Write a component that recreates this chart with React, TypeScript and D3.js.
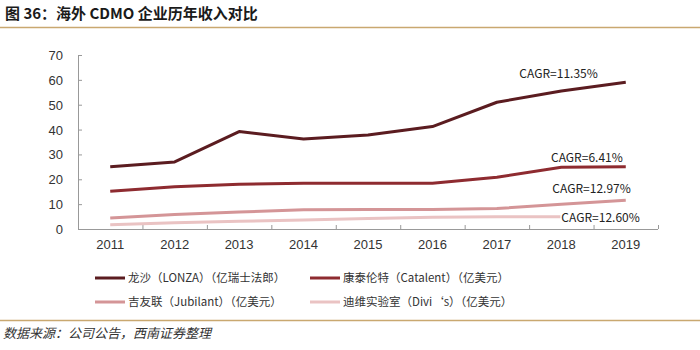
import React, { useEffect, useRef } from 'react';
import * as d3 from 'd3';

const years = ['2011', '2012', '2013', '2014', '2015', '2016', '2017', '2018', '2019'];
const lonza = [25, 27, 39.2, 36.2, 37.8, 41.2, 51, 55.5, 59];
const catalent = [15.2, 17, 18, 18.4, 18.4, 18.4, 20.8, 24.8, 25];
const jubilant = [4.4, 5.8, 6.8, 7.7, 7.8, 7.8, 8.2, 10, 11.6];
const divis = [1.7, 2.5, 3.1, 3.6, 4.2, 4.7, 4.9, 4.9, 4.8];
const seriesNames = [
  '龙沙（LONZA）（亿瑞士法郎）',
  '康泰伦特（Catalent）（亿美元）',
  '吉友联（Jubilant）（亿美元）',
  '迪维实验室（Divi‘s）（亿美元）',
];
const cagrLabels = ['CAGR=11.35%', 'CAGR=6.41%', 'CAGR=12.97%', 'CAGR=12.60%'];
const yTicks = [0, 10, 20, 30, 40, 50, 60, 70];

const colors = ['#5b1c20', '#8e2b30', '#d49597', '#eac3c3'];
const cjk = '"Noto Sans CJK SC", "Liberation Sans", sans-serif';

export default function App() {
  const ref = useRef<SVGSVGElement | null>(null);

  useEffect(() => {
    if (!ref.current) return;
    const svg = d3.select(ref.current);
    svg.selectAll('*').remove();

    const W = 700;
    const H = 350;
    const left = 78;
    const right = 658;
    const top = 55;
    const bottom = 229;

    svg.append('rect').attr('width', W).attr('height', H).attr('fill', '#fff');

    // title + rules
    svg.append('text')
      .attr('x', 5).attr('y', 19)
      .attr('font-family', cjk).attr('font-weight', 'bold').attr('font-size', 15)
      .attr('fill', '#1a1a1a')
      .text('图 36：海外 CDMO 企业历年收入对比');
    svg.append('line').attr('x1', 0).attr('x2', W).attr('y1', 27.5).attr('y2', 27.5)
      .attr('stroke', '#c9a870').attr('stroke-width', 1.5);
    svg.append('line').attr('x1', 0).attr('x2', W).attr('y1', 320.5).attr('y2', 320.5)
      .attr('stroke', '#c9a870').attr('stroke-width', 1.5);
    svg.append('text')
      .attr('x', 3).attr('y', 338)
      .attr('font-family', cjk).attr('font-style', 'italic').attr('font-size', 13)
      .attr('fill', '#333')
      .text('数据来源：公司公告，西南证券整理');

    const x = d3.scaleBand<string>().domain(years).range([left, right]);
    const y = d3.scaleLinear().domain([0, 70]).range([bottom, top]);
    const cx = (d: string) => (x(d) ?? 0) + x.bandwidth() / 2;

    const g = svg.append('g');

    // y axis, ticks inward
    const ya = g.append('g').attr('transform', `translate(${left},0)`)
      .call(d3.axisRight(y).tickValues(yTicks).tickSize(4).tickFormat(() => ''));
    ya.select('.domain').remove();
    ya.selectAll('.tick line').attr('stroke', '#999');
    g.append('line').attr('x1', left + 0.5).attr('x2', left + 0.5).attr('y1', top).attr('y2', bottom)
      .attr('stroke', '#999');
    g.append('g').selectAll('text').data(yTicks).join('text')
      .attr('x', 63).attr('y', (d) => y(d) + 5)
      .attr('text-anchor', 'end')
      .attr('font-family', 'Liberation Sans, Arial, sans-serif').attr('font-size', 13)
      .attr('fill', '#333')
      .text((d) => d);

    // x axis, ticks upward between categories
    g.append('line').attr('x1', left).attr('x2', right).attr('y1', bottom + 0.5).attr('y2', bottom + 0.5)
      .attr('stroke', '#999');
    const bounds = years.map((d) => (x(d) ?? 0) + x.bandwidth()).slice(0, -1).concat([right]);
    g.append('g').selectAll('line').data(bounds).join('line')
      .attr('x1', (d) => d + 0.5).attr('x2', (d) => d + 0.5)
      .attr('y1', bottom).attr('y2', bottom - 4)
      .attr('stroke', '#999');
    g.append('g').selectAll('text').data(years).join('text')
      .attr('x', (d) => cx(d)).attr('y', bottom + 20)
      .attr('text-anchor', 'middle')
      .attr('font-family', 'Liberation Sans, Arial, sans-serif').attr('font-size', 13)
      .attr('fill', '#333')
      .text((d) => d);

    const all = [lonza, catalent, jubilant, divis];
    const line = d3.line<number>().x((_, i) => cx(years[i])).y((d) => y(d));

    // draw lighter first so darker sit on top
    [3, 2, 1, 0].forEach((k) => {
      g.append('path').datum(all[k])
        .attr('fill', 'none').attr('stroke', colors[k]).attr('stroke-width', 3)
        .attr('stroke-linejoin', 'round')
        .attr('d', line);
    });

    // CAGR labels next to the last point
    const last = years[years.length - 1];
    const offsets = [
      [-28, -9],
      [-3, -9],
      [5, -12],
      [14, 0],
    ];
    cagrLabels.forEach((t, k) => {
      const vals = all[k];
      const px = cx(last) + offsets[k][0];
      const py = y(vals[vals.length - 1]) + offsets[k][1];
      const txt = g.append('text')
        .attr('x', px).attr('y', py + 4.5)
        .attr('text-anchor', 'end')
        .attr('font-family', cjk).attr('font-size', 12)
        .attr('fill', '#222')
        .text(t);
      if (k === 3) {
        const bb = (txt.node() as SVGTextElement).getBBox();
        g.insert('rect', () => txt.node() as SVGTextElement)
          .attr('x', bb.x - 1).attr('y', bb.y + 2).attr('width', bb.width + 2).attr('height', bb.height - 4)
          .attr('fill', '#fff');
      }
    });

    // legend
    const legendPos = [
      [95, 278],
      [310, 278],
      [95, 302],
      [310, 302],
    ];
    seriesNames.forEach((name, k) => {
      const [lx, ly] = legendPos[k];
      svg.append('line').attr('x1', lx).attr('x2', lx + 30).attr('y1', ly).attr('y2', ly)
        .attr('stroke', colors[k]).attr('stroke-width', 3);
      svg.append('text').attr('x', lx + 33).attr('y', ly + 4)
        .attr('font-family', cjk).attr('font-size', 11.5)
        .attr('fill', '#333')
        .text(name);
    });
  }, []);

  return (
    <svg
      ref={ref}
      width={700}
      height={350}
      style={{ position: 'absolute', left: 0, top: 0 }}
    />
  );
}
